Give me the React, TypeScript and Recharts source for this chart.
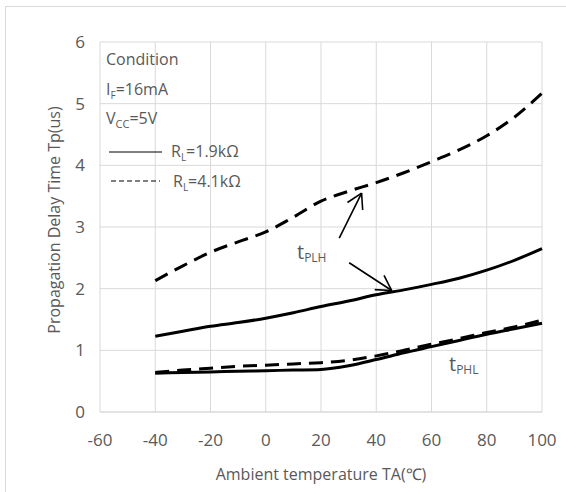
import { LineChart, Line, XAxis, YAxis, CartesianGrid, ReferenceLine } from 'recharts'

// ambient temperature (°C)
const temps = [-40, -30, -20, -10, 0, 10, 20, 30, 40, 50, 60, 70, 80, 90, 100]

// tPLH
const plhR19 = [1.23, 1.31, 1.39, 1.45, 1.52, 1.61, 1.71, 1.8, 1.9, 1.98, 2.07, 2.17, 2.3, 2.46, 2.65]
const plhR41 = [2.13, 2.37, 2.59, 2.76, 2.92, 3.16, 3.42, 3.58, 3.72, 3.88, 4.06, 4.25, 4.48, 4.78, 5.17]
// tPHL
const phlR19 = [0.63, 0.64, 0.65, 0.66, 0.67, 0.68, 0.69, 0.75, 0.85, 0.96, 1.06, 1.16, 1.26, 1.35, 1.44]
const phlR41 = [0.64, 0.68, 0.71, 0.74, 0.76, 0.78, 0.8, 0.84, 0.91, 1.0, 1.1, 1.19, 1.29, 1.38, 1.49]

const xTicks = [-60, -40, -20, 0, 20, 40, 60, 80, 100]
const yTicks = [0, 1, 2, 3, 4, 5, 6]

// annotation arrows, tail -> tip, in data units
const arrowPLH41 = [{ x: 26.6, y: 2.82 }, { x: 34.7, y: 3.55 }]
const arrowPLH19 = [{ x: 30.2, y: 2.42 }, { x: 45.6, y: 1.97 }]

const data = temps.map((t, i) => ({
  t,
  plh19: plhR19[i],
  plh41: plhR41[i],
  phl19: phlR19[i],
  phl41: phlR41[i],
}))

const FONT = '"Open Sans", sans-serif'
const TEXT = '#595959'
const GRID = '#d9d9d9'

function Arrow(props: any) {
  const { x1, y1, x2, y2 } = props
  const ang = Math.atan2(y1 - y2, x1 - x2)
  const len = 17
  const spread = Math.PI / 6
  const h1x = x2 + len * Math.cos(ang + spread)
  const h1y = y2 + len * Math.sin(ang + spread)
  const h2x = x2 + len * Math.cos(ang - spread)
  const h2y = y2 + len * Math.sin(ang - spread)
  return (
    <g stroke='#000' strokeWidth={1.6} fill='none'>
      <line x1={x1} y1={y1} x2={x2} y2={y2} />
      <line x1={x2} y1={y2} x2={h1x} y2={h1y} />
      <line x1={x2} y1={y2} x2={h2x} y2={h2y} />
    </g>
  )
}

export default function App() {
  return (
    <div style={{ position: 'absolute', left: 0, top: 0, width: 566, height: 492, background: '#fff', overflow: 'hidden', fontFamily: FONT }}>
      <div style={{ position: 'absolute', left: 5, top: 6, width: 700, height: 700, border: `1px solid ${GRID}` }} />
      <div style={{ position: 'absolute', left: 0, top: 0 }}>
        <LineChart width={566} height={492} data={data} margin={{ top: 42, right: 24, bottom: 50, left: 0 }}>
          <CartesianGrid stroke={GRID} strokeWidth={1} />
          <XAxis
            dataKey='t'
            type='number'
            domain={[-60, 100]}
            ticks={xTicks}
            height={30}
            tickLine={false}
            axisLine={{ stroke: GRID }}
            tickMargin={16}
            tick={{ fill: TEXT, fontSize: 17, fontFamily: FONT }}
          />
          <YAxis
            type='number'
            domain={[0, 6]}
            ticks={yTicks}
            width={100}
            tickLine={false}
            axisLine={false}
            tickMargin={9}
            tick={{ fill: TEXT, fontSize: 17, fontFamily: FONT }}
          />
          <Line type='monotone' dataKey='plh41' stroke='#000' strokeWidth={3} strokeDasharray='14 8' dot={false} isAnimationActive={false} />
          <Line type='monotone' dataKey='plh19' stroke='#000' strokeWidth={3} dot={false} isAnimationActive={false} />
          <Line type='monotone' dataKey='phl41' stroke='#000' strokeWidth={3} strokeDasharray='14 8' dot={false} isAnimationActive={false} />
          <Line type='monotone' dataKey='phl19' stroke='#000' strokeWidth={3} dot={false} isAnimationActive={false} />
          <ReferenceLine segment={arrowPLH41} shape={Arrow} ifOverflow='visible' />
          <ReferenceLine segment={arrowPLH19} shape={Arrow} ifOverflow='visible' />
        </LineChart>
      </div>
      <svg width={566} height={492} style={{ position: 'absolute', left: 0, top: 0, pointerEvents: 'none' }} fontFamily={FONT} fill={TEXT}>
        <text x={54} y={220} fontSize={16} textAnchor='middle' dominantBaseline='central' transform='rotate(-90 54 220)'>
          Propagation Delay Time Tp(us)
        </text>
        <text x={321} y={480} fontSize={16} textAnchor='middle'>Ambient temperature TA(℃)</text>

        <text x={106} y={65} fontSize={16}>Condition</text>
        <text x={106} y={95} fontSize={16}>
          I<tspan fontSize={10} dy={4}>F</tspan><tspan dy={-4}>=16mA</tspan>
        </text>
        <text x={106} y={124} fontSize={16}>
          V<tspan fontSize={11} dy={4}>CC</tspan><tspan dy={-4}>=5V</tspan>
        </text>
        <line x1={109} y1={152} x2={162} y2={152} stroke='#000' strokeWidth={1} />
        <text x={171} y={157} fontSize={16}>
          R<tspan fontSize={10} dy={4}>L</tspan><tspan dy={-4}>=1.9kΩ</tspan>
        </text>
        <line x1={111} y1={181} x2={160} y2={181} stroke='#000' strokeWidth={1} strokeDasharray='5 3' />
        <text x={173} y={187} fontSize={16}>
          R<tspan fontSize={10} dy={4}>L</tspan><tspan dy={-4}>=4.1kΩ</tspan>
        </text>

        <text x={297} y={259} fontSize={20}>
          t<tspan fontSize={12} dy={3}>PLH</tspan>
        </text>
        <text x={449} y={371} fontSize={20}>
          t<tspan fontSize={12} dy={3}>PHL</tspan>
        </text>
      </svg>
    </div>
  )
}
